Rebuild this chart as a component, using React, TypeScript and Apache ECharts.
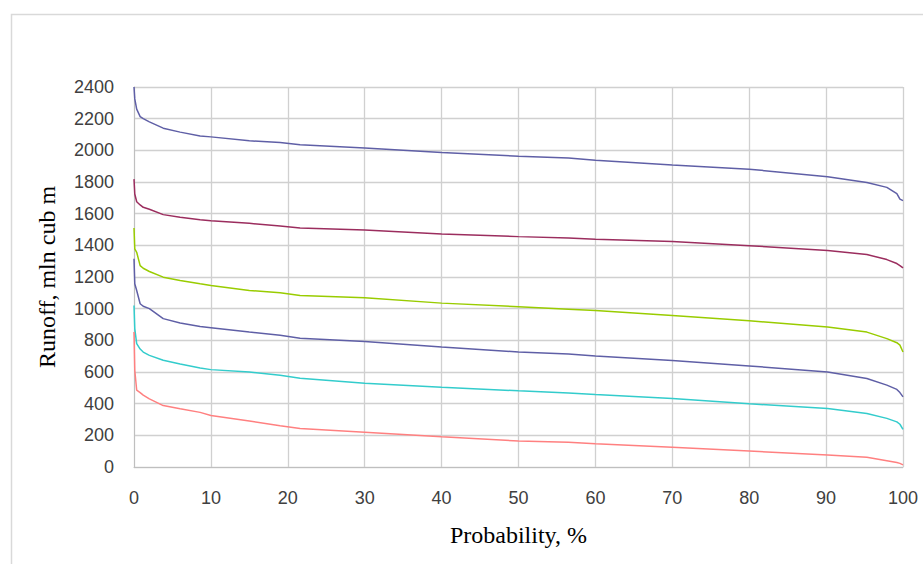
import React, { useEffect, useRef } from "react";
import * as echarts from "echarts";

const probability = [0, 0.1, 0.35, 0.8, 1.2, 2, 3.8, 6, 8.6, 10, 15, 19, 21.6, 30, 40, 50, 56.5, 60, 70, 80, 90.2, 95.3, 97.9, 99.2, 99.6, 100];

const series1 = [2400, 2325, 2260, 2213, 2200, 2180, 2140, 2115, 2091, 2085, 2060, 2049, 2035, 2014, 1986, 1963, 1951, 1938, 1907, 1881, 1833, 1797, 1766, 1726, 1692, 1682];
const series2 = [1818, 1724, 1675, 1655, 1640, 1628, 1594, 1577, 1562, 1556, 1539, 1522, 1510, 1497, 1472, 1455, 1447, 1438, 1424, 1398, 1367, 1342, 1310, 1285, 1272, 1258];
const series3 = [1510, 1378, 1356, 1272, 1255, 1235, 1199, 1178, 1157, 1146, 1115, 1100, 1083, 1069, 1035, 1012, 997, 989, 957, 924, 884, 852, 811, 785, 770, 726];
const series4 = [1315, 1157, 1115, 1031, 1015, 1000, 937, 910, 887, 880, 852, 832, 813, 792, 758, 726, 714, 701, 672, 638, 600, 559, 517, 490, 470, 443];
const series5 = [1020, 874, 779, 745, 726, 705, 674, 650, 625, 615, 600, 580, 561, 529, 504, 481, 468, 458, 433, 399, 370, 338, 307, 285, 270, 237];
const series6 = [852, 611, 485, 470, 454, 430, 388, 368, 345, 325, 290, 260, 243, 220, 191, 164, 156, 147, 124, 101, 76, 61, 40, 28, 23, 13];

const allSeries = [series1, series2, series3, series4, series5, series6];
const colors = ["#5f5fa6", "#9b2d5e", "#99cc00", "#5f5fa6", "#33cccc", "#ff8080"];

export default function App() {
  const ref = useRef<HTMLDivElement>(null);
  useEffect(() => {
    document.body.style.margin = "0";
    const chart = echarts.init(ref.current!, undefined, { renderer: "svg" });
    const tickFont = { fontFamily: "Liberation Sans", fontSize: 18, color: "#404040" };
    chart.setOption({
      animation: false,
      backgroundColor: "#ffffff",
      graphic: [
        {
          type: "rect",
          left: 9,
          top: 12,
          shape: { x: 0, y: 0, width: 940, height: 580 },
          style: { fill: "none", stroke: "#d9d9d9", lineWidth: 1.5 },
          silent: true,
          z: -1,
        },
      ],
      grid: { left: 134, top: 87, right: 20, bottom: 97, containLabel: false },
      xAxis: {
        type: "value",
        min: 0,
        max: 100,
        interval: 10,
        name: "Probability, %",
        nameLocation: "middle",
        nameGap: 56,
        nameTextStyle: { fontFamily: "Liberation Serif", fontSize: 24, color: "#000" },
        axisLine: { show: true, lineStyle: { color: "#bfbfbf", width: 1 } },
        axisTick: { show: false },
        splitLine: { show: true, lineStyle: { color: "#d0d0d0", width: 1.3 } },
        axisLabel: { ...tickFont, margin: 22, formatter: (v: number) => String(v) },
      },
      yAxis: {
        type: "value",
        min: 0,
        max: 2400,
        interval: 200,
        name: "Runoff, mln cub m",
        nameLocation: "middle",
        nameGap: 75,
        nameTextStyle: { fontFamily: "Liberation Serif", fontSize: 24, color: "#000" },
        axisLine: { show: true, lineStyle: { color: "#bfbfbf", width: 1 } },
        axisTick: { show: false },
        splitLine: { show: true, lineStyle: { color: "#d0d0d0", width: 1.3 } },
        axisLabel: { ...tickFont, margin: 20, formatter: (v: number) => String(v) },
      },
      series: allSeries.map((vals, i) => ({
        type: "line",
        data: probability.map((p, j) => [p, vals[j]]),
        showSymbol: false,
        symbol: "none",
        lineStyle: { color: colors[i], width: 1.5 },
        z: 3,
      })),
    });
    return () => chart.dispose();
  }, []);
  return <div ref={ref} style={{ width: 923, height: 564 }} />;
}
